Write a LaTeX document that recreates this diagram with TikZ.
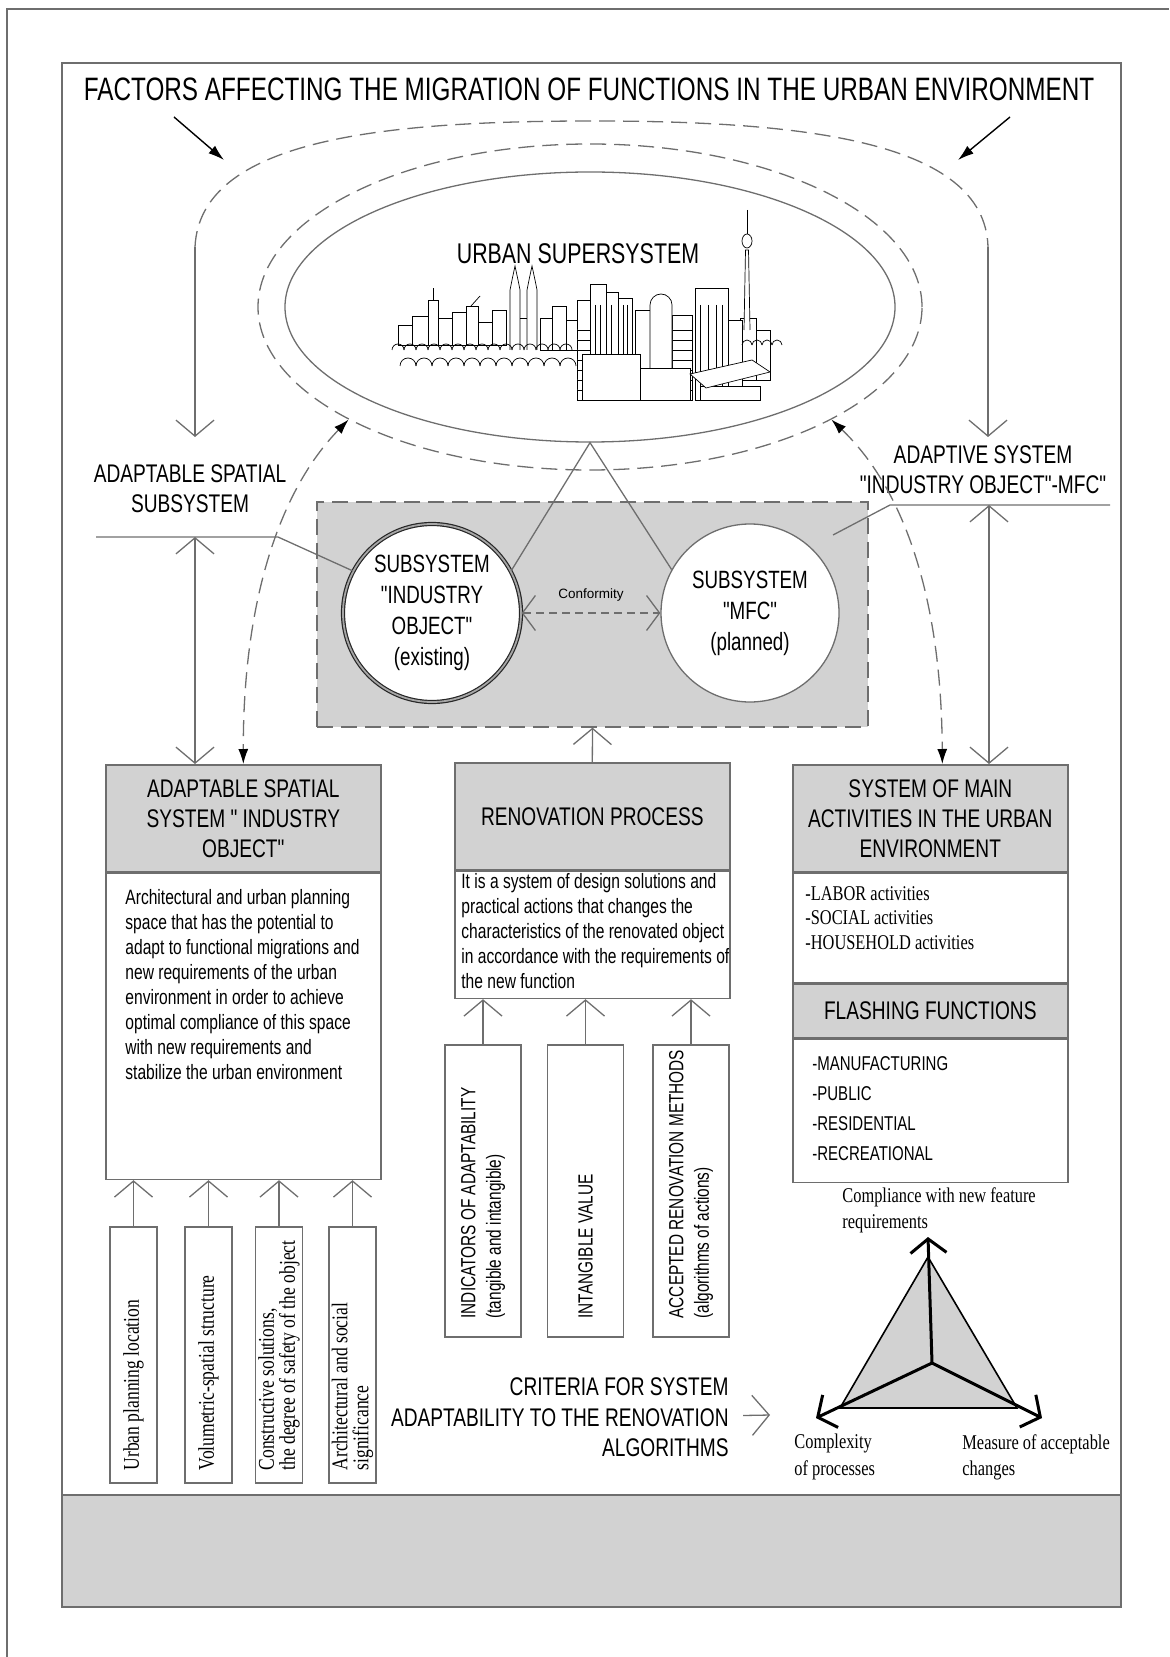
\documentclass[tikz,border=0pt]{standalone}
\usepackage{fontspec}
\setmainfont[FakeStretch=0.75, Ligatures=TeXOff]{Liberation Sans}
\newfontfamily\widesans[Ligatures=TeXOff]{Liberation Sans}
\newfontfamily\narrowserif[FakeStretch=0.78, Ligatures=TeXOff]{Liberation Serif}
\usetikzlibrary{positioning,shapes.geometric,arrows.meta}
\definecolor{panelgray}{RGB}{210,210,210}
\definecolor{linegray}{RGB}{110,110,110}
\begin{document}
\begin{tikzpicture}
[x=0.5pt, y=-0.5pt,
  linedecorate/.style={draw=linegray, line width=0.65pt},%
  openarrow/.style={linedecorate, -{Straight Barb[length=8pt,width=19pt]}},%
  biarrow/.style={linedecorate, {Straight Barb[length=8pt,width=19pt]}-{Straight Barb[length=8pt,width=19pt]}},%
  dashdecorate/.style={linedecorate, dash pattern=on 8pt off 4pt},%
  dasharrow/.style={dashdecorate, {Latex[length=7.5pt,width=5pt,color=black]}-{Latex[length=7.5pt,width=5pt,color=black]}},%
  blackarrow/.style={draw=black, line width=0.7pt, -{Latex[length=8pt,width=5pt]}},%
  headdecorate/.style={draw=linegray, fill=panelgray, line width=0.8pt, minimum width=137.5pt, minimum height=53.5pt, inner sep=1pt, align=center, font=\fontsize{12.75}{15}\selectfont},%
  bodydecorate/.style={draw=linegray, fill=white, line width=0.8pt, minimum width=137.5pt, inner sep=0pt},%
  bodytext/.style={anchor=north west, inner sep=0pt, align=left, font=\fontsize{10.4}{12.5}\selectfont},%
  listtext/.style={anchor=north west, inner sep=0pt, align=left, font=\narrowserif\fontsize{10.5}{12.25}\selectfont},%
  labeltext/.style={inner sep=0pt, align=center, font=\fontsize{12.75}{15}\selectfont},%
  circledecorate/.style={circle, minimum size=89pt, inner sep=0pt, fill=white, align=center, font=\fontsize{12.5}{15.5}\selectfont},%
  subdecorate/.style={draw=linegray, line width=0.8pt, fill=white, inner sep=0pt},%
  skylinedecorate/.style={draw=black, line width=0.35pt, fill=white},%
  trilabel/.style={anchor=north west, inner sep=0pt, align=left, font=\narrowserif\fontsize{10.5}{13.3}\selectfont}]
\useasboundingbox (0,0) rectangle (1169,1657);
%% frames
\draw[linedecorate] (7,1657) -- (7,9) -- (1169,9);
\draw[linedecorate, line width=1pt] (62,63) rectangle (1121,1607);
\draw[linedecorate, line width=1pt, fill=panelgray] (62,1495) rectangle (1121,1607);
%% title and factors
\node (title) at (589,89) [font=\fontsize{16.2}{19}\selectfont] {FACTORS AFFECTING THE MIGRATION OF FUNCTIONS IN THE URBAN ENVIRONMENT};
\coordinate (factorleft) at (174,117);
\coordinate (factorlefttip) at (224,160);
\coordinate (factorright) at (1010,117);
\coordinate (factorrighttip) at (958,160);
\draw[blackarrow] (factorleft) -- (factorlefttip);
\draw[blackarrow] (factorright) -- (factorrighttip);
%% outer arc with the two descending arrows
\coordinate (arcleft) at (195,247);
\coordinate (arcright) at (988,247);
\coordinate (arcleftend) at (195,437);
\coordinate (arcrightend) at (988,437);
\draw[dashdecorate] (arcleft) .. controls (200,140) and (380,121) .. (592,121)
  .. controls (800,121) and (985,140) .. (arcright);
\draw[openarrow] (arcleft) -- (arcleftend);
\draw[openarrow] (arcright) -- (arcrightend);
%% urban supersystem
\node (superring) at (590,307) [ellipse, dashdecorate, minimum width=332pt, minimum height=163pt] {};
\node (supersys) at (590,307) [ellipse, linedecorate, minimum width=305pt, minimum height=135pt] {};
%% skyline sketch
\foreach \bl/\br/\bt/\bb in {398/412/325/345, 412/428/316/345, 428/438/300/345, 438/452/318/345,
  452/466/312/345, 466/478/306/345, 478/492/322/345, 492/506/310/345, 540/552/318/350,
  552/566/306/350, 566/578/320/350, 740/756/318/380, 756/770/330/380, 728/742/320/395,
  577/590/300/400, 590/606/284/400, 606/618/292/400, 618/632/298/400, 635/650/310/400,
  672/692/315/400, 695/728/288/400} {
  \draw[skylinedecorate] (\bl,\bt) rectangle (\br,\bb);
}
\foreach \wx in {595,600,611,623,627,700,708,716,722} {
  \draw[skylinedecorate] (\wx,305) -- (\wx,395);
}
\foreach \wy in {330,340,350,360,370,380,390} {
  \draw[skylinedecorate] (577,\wy) -- (590,\wy);
  \draw[skylinedecorate] (672,\wy) -- (692,\wy);
}
\draw[skylinedecorate] (433,300) -- (433,288);
\draw[skylinedecorate] (471,306) -- (480,296);
\foreach \tx in {510,527} {
  \draw[skylinedecorate] (\tx,350) -- (\tx,290) -- (\tx+2,280) -- (\tx+5,266) -- (\tx+8,280) -- (\tx+10,290) -- (\tx+10,350);
}
\draw[skylinedecorate] (520,318) -- (527,318);
\draw[skylinedecorate] (650,400) -- (650,305) arc (180:360:11) -- (672,400);
\draw[skylinedecorate] (744,330) -- (745.5,250) -- (748.5,250) -- (750,330);
\draw[skylinedecorate] (747,241) ellipse (5 and 7);
\draw[skylinedecorate] (747,210) -- (747,234);
\draw[skylinedecorate] (582,354) rectangle (640,400);
\draw[skylinedecorate] (640,368) rectangle (690,400);
\draw[skylinedecorate] (700,386) rectangle (760,400);
\draw[skylinedecorate] (690,374) -- (752,360) -- (770,372) -- (706,388) -- cycle;
\foreach \tx in {392,404,...,560} {
  \draw[skylinedecorate, fill=none] (\tx,350) arc (180:360:6);
}
\foreach \tx in {400,416,...,560} {
  \draw[skylinedecorate, fill=none] (\tx,366) arc (180:360:8);
}
\foreach \tx in {742,752,...,772} {
  \draw[skylinedecorate, fill=none] (\tx,345) arc (180:360:5);
}
\node (supertitle) at (578,254) [font=\fontsize{14.25}{17}\selectfont] {URBAN SUPERSYSTEM};
%% side labels
\node (spatlabel) at (190,489) [labeltext] {ADAPTABLE SPATIAL\\SUBSYSTEM};
\node (adaptlabel) at (983,470) [labeltext] {ADAPTIVE SYSTEM\\"INDUSTRY OBJECT"-MFC"};
%% adaptive system with the two subsystems
\node (adaptbox) at (592.5,614.5) [linedecorate, dash pattern=on 8pt off 4pt, fill=panelgray, minimum width=275.5pt, minimum height=112.5pt] {};
\node (industry) at (432,613) [circledecorate, draw=black!85, line width=0.6pt, double=gray!70, double distance=0.9pt] {SUBSYSTEM\\"INDUSTRY\\OBJECT"\\(existing)};
\node (mfc) at (750,613) [circledecorate, linedecorate] {SUBSYSTEM\\"MFC"\\(planned)};
\draw[linedecorate] (industry.28) -- (supersys.south) -- (mfc.151);
\draw[linedecorate, dash pattern=on 4pt off 2.5pt, {Straight Barb[length=6.5pt,width=17.5pt]}-{Straight Barb[length=6.5pt,width=17.5pt]}]
  (industry.east) -- node[above=2pt, font=\widesans\fontsize{6.75}{8}\selectfont] (conformity) {Conformity} (mfc.west);
%% leader lines
\coordinate (lbranchend) at (96,537);
\coordinate (lknee) at (278,537);
\coordinate (lbranch) at (195,537);
\coordinate (rbranchend) at (1110,505);
\coordinate (rknee) at (890,505);
\coordinate (rbranch) at (989,505);
\coordinate (rpoint) at (833,535);
\draw[linedecorate] (lbranchend) -- (lknee) -- (industry.152);
\draw[linedecorate] (rbranchend) -- (rknee) -- (rpoint);
%% three blocks
\node (spatialhead) at (105,764) [headdecorate, anchor=north west] {ADAPTABLE SPATIAL\\SYSTEM " INDUSTRY\\OBJECT"};
\node (spatialbody) [bodydecorate, minimum height=153pt, below=0pt of spatialhead] {};
\node (renovhead) at (454,762) [headdecorate, anchor=north west] {RENOVATION PROCESS};
\node (renovbody) [bodydecorate, minimum height=63.5pt, below=0pt of renovhead] {};
\node (activhead) at (792,764) [headdecorate, anchor=north west] {SYSTEM OF MAIN\\ACTIVITIES IN THE URBAN\\ENVIRONMENT};
\node (activbody) [bodydecorate, minimum height=54.5pt, below=0pt of activhead] {};
\node (flashhead) [headdecorate, minimum height=27pt, below=0pt of activbody] {FLASHING FUNCTIONS};
\node (flashbody) [bodydecorate, minimum height=71.5pt, below=0pt of flashhead] {};
\node (spatialtext) at ([xshift=10pt,yshift=-8pt]spatialbody.north west) [bodytext] {Architectural and urban planning\\space that has the potential to\\adapt to functional migrations and\\new requirements of the urban\\environment in order to achieve\\optimal compliance of this space\\with new requirements and\\stabilize the urban environment};
\node (renovtext) at ([xshift=3.5pt,yshift=-1pt]renovbody.north west) [bodytext] {It is a system of design solutions and\\practical actions that changes the\\characteristics of the renovated object\\in accordance with the requirements of\\the new function};
\node (activtext) at ([xshift=6.5pt,yshift=-6.75pt]activbody.north west) [listtext] {-LABOR activities\\-SOCIAL activities\\-HOUSEHOLD activities};
\node (flashtext) at ([xshift=10pt,yshift=-8.85pt]flashbody.north west) [bodytext, font=\fontsize{10}{15}\selectfont] {-MANUFACTURING\\-PUBLIC\\-RESIDENTIAL\\-RECREATIONAL};
%% connections between blocks
\draw[biarrow] (lbranch) -- (lbranch |- spatialhead.north);
\draw[biarrow] (rbranch) -- (rbranch |- activhead.north);
\draw[dasharrow] (superring.205) .. controls (280,490) and (243,600) .. (spatialhead.north);
\draw[dasharrow] (superring.-25) .. controls (905,490) and (941.5,600) .. ([xshift=6pt]activhead.north);
\draw[openarrow] (renovhead.north) -- (adaptbox.south);
%% factors of the spatial system
\foreach \nodename/\x/\txt in {urbanloc/133.5/{Urban planning location},
  volume/208.5/{Volumetric-spatial structure},
  construct/279/{Constructive solutions,\\the degree of safety of the object},
  social/352.5/{Architectural and social\\significance}} {
  \node (\nodename) at (\x,1355) [subdecorate, minimum width=23.5pt, minimum height=128pt] {};
  \node (\nodename label) at ([yshift=6.5pt]\nodename.south) [rotate=90, anchor=west, inner sep=0pt, align=left, font=\narrowserif\fontsize{11.25}{10.5}\selectfont] {\txt};
  \draw[openarrow] (\nodename.north) -- (\nodename.north |- spatialbody.south);
}
%% factors of the renovation process
\foreach \nodename/\x/\txt in {indicators/483/{INDICATORS OF ADAPTABILITY\\(tangible and intangible)},
  intangible/585.5/{INTANGIBLE VALUE},
  methods/691/{ACCEPTED RENOVATION METHODS\\(algorithms of actions)}} {
  \node (\nodename) at (\x,1191) [subdecorate, minimum width=38pt, minimum height=146pt] {};
  \node (\nodename label) at ([yshift=9.5pt]\nodename.south) [rotate=90, anchor=west, inner sep=0pt, align=left, font=\fontsize{10.25}{12.75}\selectfont] {\txt};
  \draw[openarrow] (\nodename.north) -- (\nodename.north |- renovbody.south);
}
%% criteria and their triangle
\node (criteria) at (729,1417.5) [anchor=east, inner sep=0pt, align=right, font=\fontsize{12.75}{15.25}\selectfont] {CRITERIA FOR SYSTEM\\ADAPTABILITY TO THE RENOVATION\\ALGORITHMS};
\coordinate (critarrow) at (770,1415);
\draw[linedecorate, -{Straight Barb[length=8.5pt,width=20pt]}] ([xshift=7pt,yshift=1pt]criteria.east) -- (critarrow);
\coordinate (tcenter) at (932,1363);
\coordinate (tapex) at (928,1257);
\coordinate (tleft) at (840,1408);
\coordinate (tright) at (1017,1408);
\coordinate (taxistop) at (928,1237);
\coordinate (taxisleft) at (816,1418);
\coordinate (taxisright) at (1042,1418);
\draw[draw=black, line width=0.8pt, fill=panelgray] (tapex) -- (tleft) -- (tright) -- cycle;
\foreach \axis in {taxistop, taxisleft, taxisright} {
  \draw[draw=black, line width=1.5pt, -{Straight Barb[length=7pt,width=18pt]}] (tcenter) -- (\axis);
}
\node (compliance) at (842,1187) [trilabel] {Compliance with new feature\\requirements};
\node (complexity) at (794,1434) [trilabel] {Complexity\\of processes};
\node (measure) at (962,1434) [trilabel] {Measure of acceptable\\changes};
\end{tikzpicture}
\end{document}
